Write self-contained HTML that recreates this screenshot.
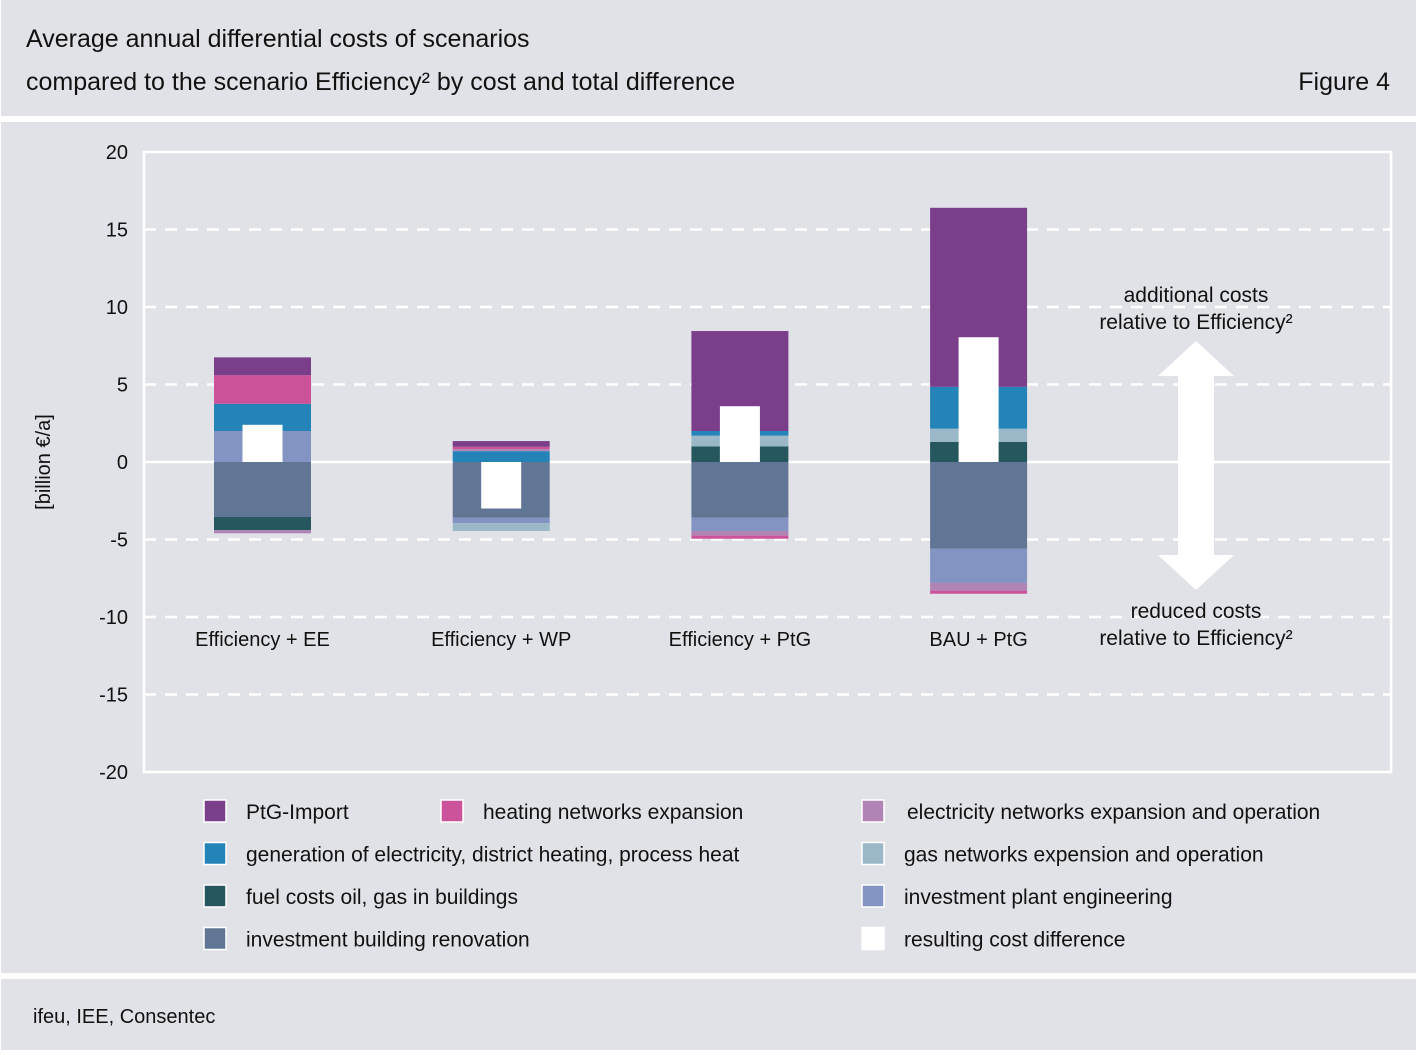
<!DOCTYPE html>
<html><head><meta charset="utf-8"><style>
body{margin:0;width:1416px;height:1050px;background:#fff;font-family:"Liberation Sans","DejaVu Sans",sans-serif;overflow:hidden}
svg text{font-family:"Liberation Sans","DejaVu Sans",sans-serif;fill:#111}
</style></head><body>
<svg id="c" width="1416" height="1050">
<rect x="1" y="0" width="1415" height="116" fill="#e1e2e7"/>
<rect x="1" y="122" width="1415" height="851" fill="#e1e2e7"/>
<rect x="1" y="979" width="1415" height="71" fill="#e1e2e7"/>
<text x="26" y="47" font-size="25">Average annual differential costs of scenarios</text>
<text x="26" y="90" font-size="25">compared to the scenario Efficiency² by cost and total difference</text>
<text x="1390" y="90" font-size="25" text-anchor="end">Figure 4</text>
<text x="33" y="1023" font-size="20">ifeu, IEE, Consentec</text>
<rect x="144" y="152" width="1247" height="620" fill="none" stroke="#fff" stroke-width="2.5"/>
<g id="grid"></g><g id="bars"></g><g id="legend"></g>
<text transform="translate(50,462) rotate(-90)" font-size="20" text-anchor="middle">[billion €/a]</text>
<polygon points="1196,341 1234,376 1214,376 1214,555 1234,555 1196,590 1158,555 1178,555 1178,376 1158,376" fill="#fff"/>
<text x="1196" y="302" font-size="21" text-anchor="middle">additional costs</text>
<text x="1196" y="329" font-size="21" text-anchor="middle">relative to Efficiency²</text>
<text x="1196" y="618" font-size="21" text-anchor="middle">reduced costs</text>
<text x="1196" y="645" font-size="21" text-anchor="middle">relative to Efficiency²</text>
</svg>
<script>
const categories=["Efficiency + EE","Efficiency + WP","Efficiency + PtG","BAU + PtG"];
const seriesNames=["PtG-Import","heating networks expansion","electricity networks expansion and operation","generation of electricity, district heating, process heat","gas networks expension and operation","fuel costs oil, gas in buildings","investment plant engineering","investment building renovation"];
const ptg=[1.15,0.37,6.45,11.55];
const heating=[1.85,0.15,-0.2,-0.2];
const elecNet=[-0.2,0.13,-0.3,-0.5];
const generation=[1.75,0.7,0.3,2.7];
const gasNet=[0,-0.5,0.7,0.85];
const fuel=[-0.85,0,1.0,1.3];
const plantEng=[2.0,-0.35,-0.85,-2.2];
const renovation=[-3.55,-3.6,-3.6,-5.6];
const resulting=[2.4,-3.0,3.6,8.05];
const yTicks=[20,15,10,5,0,-5,-10,-15,-20];
const colors={ptg:"#7a3e8a",heating:"#cc5299",elecNet:"#b084b4",generation:"#2484b8",gasNet:"#9ab8c8",fuel:"#26575e",plantEng:"#8394c2",renovation:"#617594"};
const NS="http://www.w3.org/2000/svg";
const y=v=>462-v*15.5;
const x=i=>262.5+i*238.7;
function mk(tag,attrs,parent){const e=document.createElementNS(NS,tag);for(const k in attrs)e.setAttribute(k,attrs[k]);parent.appendChild(e);return e;}
const grid=document.getElementById('grid');
yTicks.forEach(t=>{
  if(t!==20&&t!==-20){const l=mk('line',{x1:144,x2:1391,y1:y(t),y2:y(t),stroke:'#fff','stroke-width':2.5,'stroke-dasharray':t===0?'':'12,9'},grid);
  
  }
  const tx=mk('text',{x:128,y:y(t)+7,'font-size':20,'text-anchor':'end'},grid);tx.textContent=t;
  
  
});
// stacking order (bottom up from zero)
const posOrder=[["plantEng",plantEng],["fuel",fuel],["gasNet",gasNet],["generation",generation],["elecNet",elecNet],["heating",heating],["ptg",ptg]];
const negOrder=[["renovation",renovation],["plantEng",plantEng],["fuel",fuel],["gasNet",gasNet],["elecNet",elecNet],["heating",heating],["ptg",ptg]];
const bars=document.getElementById('bars');
categories.forEach((c,i)=>{
  let p=0,n=0;
  const draw=(key,a,b)=>{const r=mk('rect',{x:x(i)-48.5,width:97,y:y(Math.max(a,b)),height:Math.abs(a-b)*15.5,fill:colors[key]},bars);
    
    };
  [["renovation",renovation]].concat(posOrder).forEach(([k,arr])=>{const v=arr[i];if(v>0){draw(k,p,p+v);p+=v;}});
  negOrder.forEach(([k,arr])=>{const v=arr[i];if(v<0){draw(k,n,n+v);n+=v;}});
  const w=mk('rect',{x:x(i)-20,width:40,y:y(Math.max(0,resulting[i])),height:Math.abs(resulting[i])*15.5,fill:'#fff'},bars);
  
  
  const t=mk('text',{x:x(i),y:646,'font-size':20,'text-anchor':'middle'},bars);t.textContent=c;
  
  
});
const leg=[["ptg",0,0],["heating",1,0],["elecNet",2,0],["generation",0,1],["gasNet",2,1],["fuel",0,2],["plantEng",2,2],["renovation",0,3],["white",2,3]];
const legText={ptg:seriesNames[0],heating:seriesNames[1],elecNet:seriesNames[2],generation:seriesNames[3],gasNet:seriesNames[4],fuel:seriesNames[5],plantEng:seriesNames[6],renovation:seriesNames[7],white:"resulting cost difference"};
const colX=[204,441,862],txX=[246,483,904];
const lg=document.getElementById('legend');
leg.forEach(([k,cI,r])=>{
  const cy=811+r*42.5;
  const s=mk('rect',{x:colX[cI],y:cy-11,width:22,height:22,fill:k==='white'?'#fff':colors[k],stroke:'#fff','stroke-width':1.5},lg);
  
  
  const t=mk('text',{x:txX[cI]+(k==='elecNet'?3:0),y:cy+8,'font-size':21},lg);t.textContent=legText[k];
  
  
});
</script>
</body></html>
